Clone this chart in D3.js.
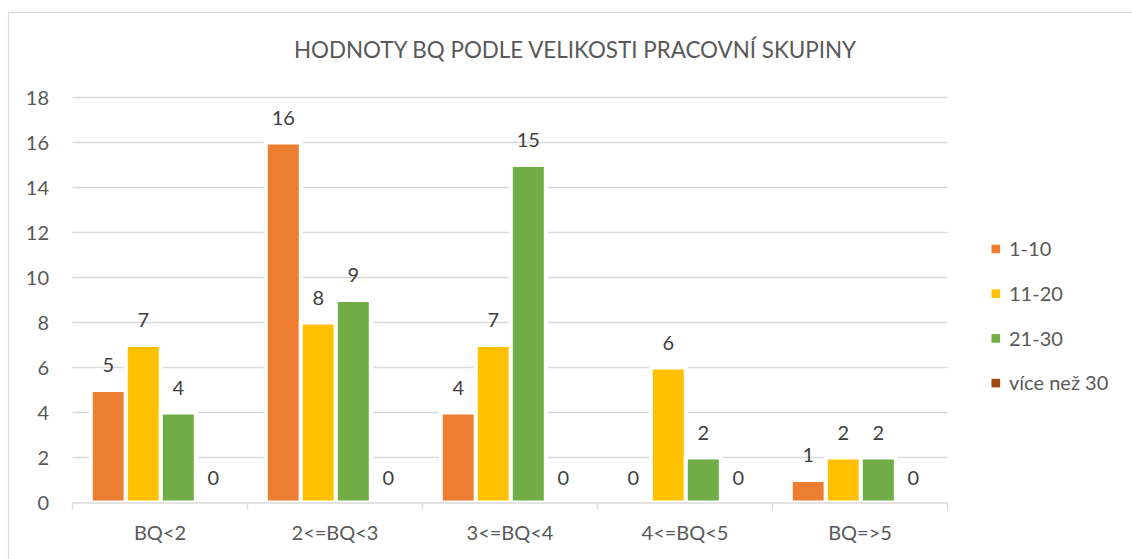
<!DOCTYPE html>
<html>
<head>
<meta charset="utf-8">
<script src="https://cdn.jsdelivr.net/npm/d3@7"></script>
<style>
  html, body { margin: 0; padding: 0; background: #fff; }
  svg { display: block; font-family: Lato, "Open Sans", sans-serif; }
</style>
</head>
<body>
<svg id="chart" width="1132" height="559"></svg>
<script>
const title = "HODNOTY BQ PODLE VELIKOSTI PRACOVNÍ SKUPINY";
const categories = ["BQ<2", "2<=BQ<3", "3<=BQ<4", "4<=BQ<5", "BQ=>5"];
const seriesNames = ["1-10", "11-20", "21-30", "více než 30"];
const series_1_10 = [5, 16, 4, 0, 1];
const series_11_20 = [7, 8, 7, 6, 2];
const series_21_30 = [4, 9, 15, 2, 2];
const series_over30 = [0, 0, 0, 0, 0];
const yTicks = [0, 2, 4, 6, 8, 10, 12, 14, 16, 18];
const colors = ["#ED7D31", "#FFC000", "#70AD47", "#9E480E"];

const seriesValues = [series_1_10, series_11_20, series_21_30, series_over30];

(function () {
const svg = d3.select("#chart");

// outer frame
svg.append("rect")
  .attr("x", 8.5).attr("y", 12.5)
  .attr("width", 1300).attr("height", 700)
  .attr("fill", "none").attr("stroke", "#d9d9d9").attr("stroke-width", 1.2);

const pLeft = 72.5, pRight = 947.5, pTop = 97.5, pBottom = 502.5;

const x0 = d3.scaleBand().domain(categories).range([pLeft, pRight]).padding(0);
const x1 = d3.scaleBand().domain(seriesNames)
  .range([18.3, 158.3]).paddingInner(0).paddingOuter(0);
const y = d3.scaleLinear().domain([0, 18]).range([pBottom, pTop]);

// gridlines
svg.append("g")
  .selectAll("line").data(yTicks.filter(d => d !== 0)).join("line")
  .attr("x1", pLeft).attr("x2", pRight)
  .attr("y1", d => y(d)).attr("y2", d => y(d))
  .attr("stroke", "#d9d9d9").attr("stroke-width", 1.3);

// y axis labels
const yAxis = d3.axisLeft(y).tickValues(yTicks).tickSize(0).tickPadding(0);
const yg = svg.append("g").attr("transform", `translate(49,0)`).call(yAxis);
yg.select(".domain").remove();
yg.selectAll("text")
  .attr("font-size", 20).attr("fill", "#595959")
  .attr("font-family", "Lato, sans-serif")
  .attr("dy", "0.36em").attr("x", 0);

// bars
const groups = svg.append("g").selectAll("g")
  .data(categories).join("g")
  .attr("transform", d => `translate(${x0(d)},0)`);

groups.selectAll("rect")
  .data((c, i) => seriesNames.map((s, j) => ({ s, v: seriesValues[j][i], j })))
  .join("rect")
  .attr("x", d => x1(d.s))
  .attr("width", x1.bandwidth())
  .attr("y", d => y(d.v))
  .attr("height", d => y(0) - y(d.v))
  .attr("fill", d => colors[d.j])
  .attr("stroke", "#fff").attr("stroke-width", d => d.v > 0 ? 4 : 0);

// x axis
const xAxis = d3.axisBottom(x0).tickSize(0).tickPadding(0);
const xg = svg.append("g").attr("transform", `translate(0,${pBottom})`).call(xAxis);
xg.select(".domain").attr("stroke", "#d9d9d9").attr("stroke-width", 1.3);
xg.selectAll(".tick line").remove();
xg.selectAll("text")
  .attr("font-size", 20).attr("fill", "#595959")
  .attr("font-family", "Lato, sans-serif")
  .attr("y", 37).attr("dy", 0);

// category boundary ticks
const boundaries = categories.map(c => x0(c)).concat([pRight]);
svg.append("g").selectAll("line").data(boundaries).join("line")
  .attr("x1", d => d).attr("x2", d => d)
  .attr("y1", pBottom).attr("y2", pBottom + 6.5)
  .attr("stroke", "#d9d9d9").attr("stroke-width", 1.3);

// data labels
groups.selectAll("text.lbl")
  .data((c, i) => seriesNames.map((s, j) => ({ s, v: seriesValues[j][i], j })))
  .join("text").attr("class", "lbl")
  .attr("x", d => x1(d.s) + x1.bandwidth() / 2)
  .attr("y", d => y(d.v) - 18)
  .attr("text-anchor", "middle")
  .attr("font-size", 20).attr("fill", "#404040")
  .text(d => d.v);

// title
svg.append("text")
  .attr("x", 575).attr("y", 57.5)
  .attr("text-anchor", "middle")
  .attr("font-size", 22.4).attr("fill", "#595959")
  .text(title);

// legend
const legend = svg.append("g").selectAll("g")
  .data(seriesNames).join("g")
  .attr("transform", (d, i) => `translate(991.5,${249 + i * 44.7})`);
legend.append("rect")
  .attr("x", 0).attr("y", -4.3).attr("width", 8.6).attr("height", 8.6)
  .attr("fill", (d, i) => colors[i]);
legend.append("text")
  .attr("x", 17.5).attr("y", 0).attr("dy", "0.36em")
  .attr("font-size", 20).attr("fill", "#595959")
  .text(d => d);
})();
</script>
</body>
</html>
